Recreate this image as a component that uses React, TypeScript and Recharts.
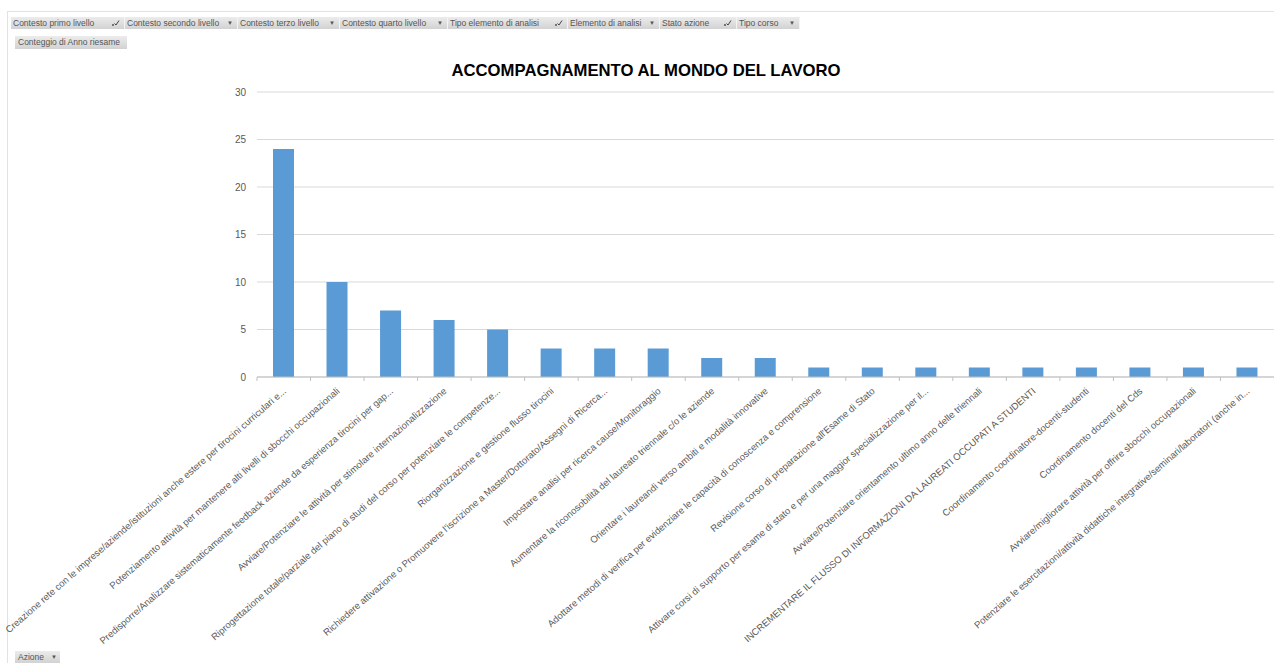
import React from "react";
import { BarChart, Bar, XAxis, YAxis, CartesianGrid } from "recharts";

const categories = [
  "Creazione rete con le imprese/aziende/istituzioni anche estere per tirocini curriculari e...",
  "Potenziamento attività per mantenere alti livelli di sbocchi occupazionali",
  "Predisporre/Analizzare sistematicamente feedback aziende da esperienza tirocini per gap...",
  "Avviare/Potenziare le attività per stimolare internazionalizzazione",
  "Riprogettazione totale/parziale del piano di studi del corso per potenziare le competenze...",
  "Riorganizzazione e gestione flusso tirocini",
  "Richiedere attivazione o Promuovere l'iscrizione a Master/Dottorato/Assegni di Ricerca...",
  "Impostare analisi per ricerca cause/Monitoraggio",
  "Aumentare la riconosobilità del laureato triennale c/o le aziende",
  "Orientare i laureandi verso ambiti e modalità innovative",
  "Adottare metodi di verifica per evidenziare le capacità di conoscenza e comprensione",
  "Revisione corso di preparazione all'Esame di Stato",
  "Attivare corsi di supporto per esame di stato e per una maggior specializzazione per il...",
  "Avviare/Potenziare orientamento ultimo anno delle triennali",
  "INCREMENTARE IL FLUSSO DI INFORMAZIONI DA LAUREATI OCCUPATI A STUDENTI",
  "Coordinamento coordinatore-docenti-studenti",
  "Coordinamento docenti del Cds",
  "Avviare/migliorare attività per offrire sbocchi occupazionali",
  "Potenziare le esercitazioni/attività didattiche integrative/seminari/laboratori (anche in...",
];

const counts = [24, 10, 7, 6, 5, 3, 3, 3, 2, 2, 1, 1, 1, 1, 1, 1, 1, 1, 1];

const yTicks = [0, 5, 10, 15, 20, 25, 30];

const filterLabels = [
  "Contesto primo livello",
  "Contesto secondo livello",
  "Contesto terzo livello",
  "Contesto quarto livello",
  "Tipo elemento di analisi",
  "Elemento di analisi",
  "Stato azione",
  "Tipo corso",
];
const filterIcons = ["filter", "arrow", "arrow", "arrow", "filter", "arrow", "filter", "arrow"];
const filterWidths = [114, 113, 102, 108, 120, 92, 77, 63];

const data = categories.map((name, i) => ({ name, value: counts[i] }));

const FONT = "'Liberation Sans', Arial, sans-serif";

const FilterIcon = () => (
  <svg width="9" height="8" viewBox="0 0 9 8">
    <circle cx="2" cy="6" r="0.9" fill="#444" />
    <path d="M3.5 4.5 L5 6 L8 1.5" stroke="#444" strokeWidth="1" fill="none" />
  </svg>
);

const Button = ({ label, icon, width }: { label: string; icon: string; width: number }) => (
  <div
    style={{
      width,
      height: 12,
      boxSizing: "border-box",
      display: "flex",
      alignItems: "center",
      justifyContent: "space-between",
      padding: "0 4px 0 2px",
      background: "linear-gradient(#ececec, #d2d2d2)",
      borderRight: "1px solid #f4f4f4",
      fontSize: 8.5,
      color: "#555",
      fontFamily: FONT,
      whiteSpace: "nowrap",
    }}
  >
    <span>{label}</span>
    {icon === "filter" ? <FilterIcon /> : <span style={{ fontSize: 6 }}>▼</span>}
  </div>
);

const XTick = (props: any) => {
  const { x, y, payload, width, visibleTicksCount } = props;
  const band = width / (visibleTicksCount || 19);
  return (
    <g>
      <line x1={x - band / 2} y1={y} x2={x - band / 2} y2={y + 4} stroke="#bfbfbf" />
      <text
        transform={`translate(${x + 3},${y + 15}) rotate(-41)`}
        textAnchor="end"
        fontSize={9.5}
        fontFamily={FONT}
        fill="#595959"
      >
        {payload.value}
      </text>
    </g>
  );
};

export default function App() {
  return (
    <div
      style={{
        position: "absolute",
        left: 0,
        top: 0,
        width: 1274,
        height: 663,
        background: "#fff",
        overflow: "hidden",
      }}
    >
      <div
        style={{
          position: "absolute",
          left: 7,
          top: 11,
          width: 1267,
          height: 652,
          borderTop: "1px solid #e2e2e2",
          borderLeft: "1px solid #e2e2e2",
        }}
      />
      <div style={{ position: "absolute", left: 11, top: 17, display: "flex" }}>
        {filterLabels.map((l, i) => (
          <Button key={l} label={l} icon={filterIcons[i]} width={filterWidths[i]} />
        ))}
      </div>
      <div
        style={{
          position: "absolute",
          left: 15,
          top: 36,
          width: 112,
          height: 13,
          boxSizing: "border-box",
          padding: "0 3px",
          background: "linear-gradient(#ececec, #d2d2d2)",
          fontSize: 8.5,
          lineHeight: "13px",
          color: "#555",
          fontFamily: FONT,
          whiteSpace: "nowrap",
        }}
      >
        Conteggio di Anno riesame
      </div>
      <div
        style={{
          position: "absolute",
          left: 15,
          top: 651,
          width: 45,
          height: 12,
          boxSizing: "border-box",
          padding: "0 3px",
          display: "flex",
          justifyContent: "space-between",
          alignItems: "center",
          background: "linear-gradient(#ececec, #d2d2d2)",
          fontSize: 8.5,
          color: "#555",
          fontFamily: FONT,
        }}
      >
        <span>Azione</span>
        <span style={{ fontSize: 6 }}>▼</span>
      </div>
      <div
        style={{
          position: "absolute",
          left: 0,
          width: 1292,
          top: 61,
          textAlign: "center",
          fontFamily: FONT,
          fontWeight: "bold",
          fontSize: 16.7,
          color: "#000",
        }}
      >
        ACCOMPAGNAMENTO AL MONDO DEL LAVORO
      </div>
      <div style={{ position: "absolute", left: 0, top: 0 }}>
        <BarChart
          width={1274}
          height={663}
          data={data}
          margin={{ top: 92, right: 0, bottom: 6, left: 217 }}
        >
          <CartesianGrid vertical={false} stroke="#d9d9d9" />
          <XAxis
            dataKey="name"
            interval={0}
            height={280}
            tickSize={0}
            tickMargin={0}
            axisLine={{ stroke: "#bfbfbf" }}
            tick={<XTick />}
          />
          <YAxis
            width={40}
            domain={[0, 30]}
            ticks={yTicks}
            axisLine={false}
            tickLine={false}
            tickMargin={5}
            tick={{ fontSize: 10, fill: "#595959", fontFamily: FONT }}
          />
          <Bar dataKey="value" fill="#5b9bd5" barSize={21} isAnimationActive={false} />
        </BarChart>
      </div>
    </div>
  );
}
